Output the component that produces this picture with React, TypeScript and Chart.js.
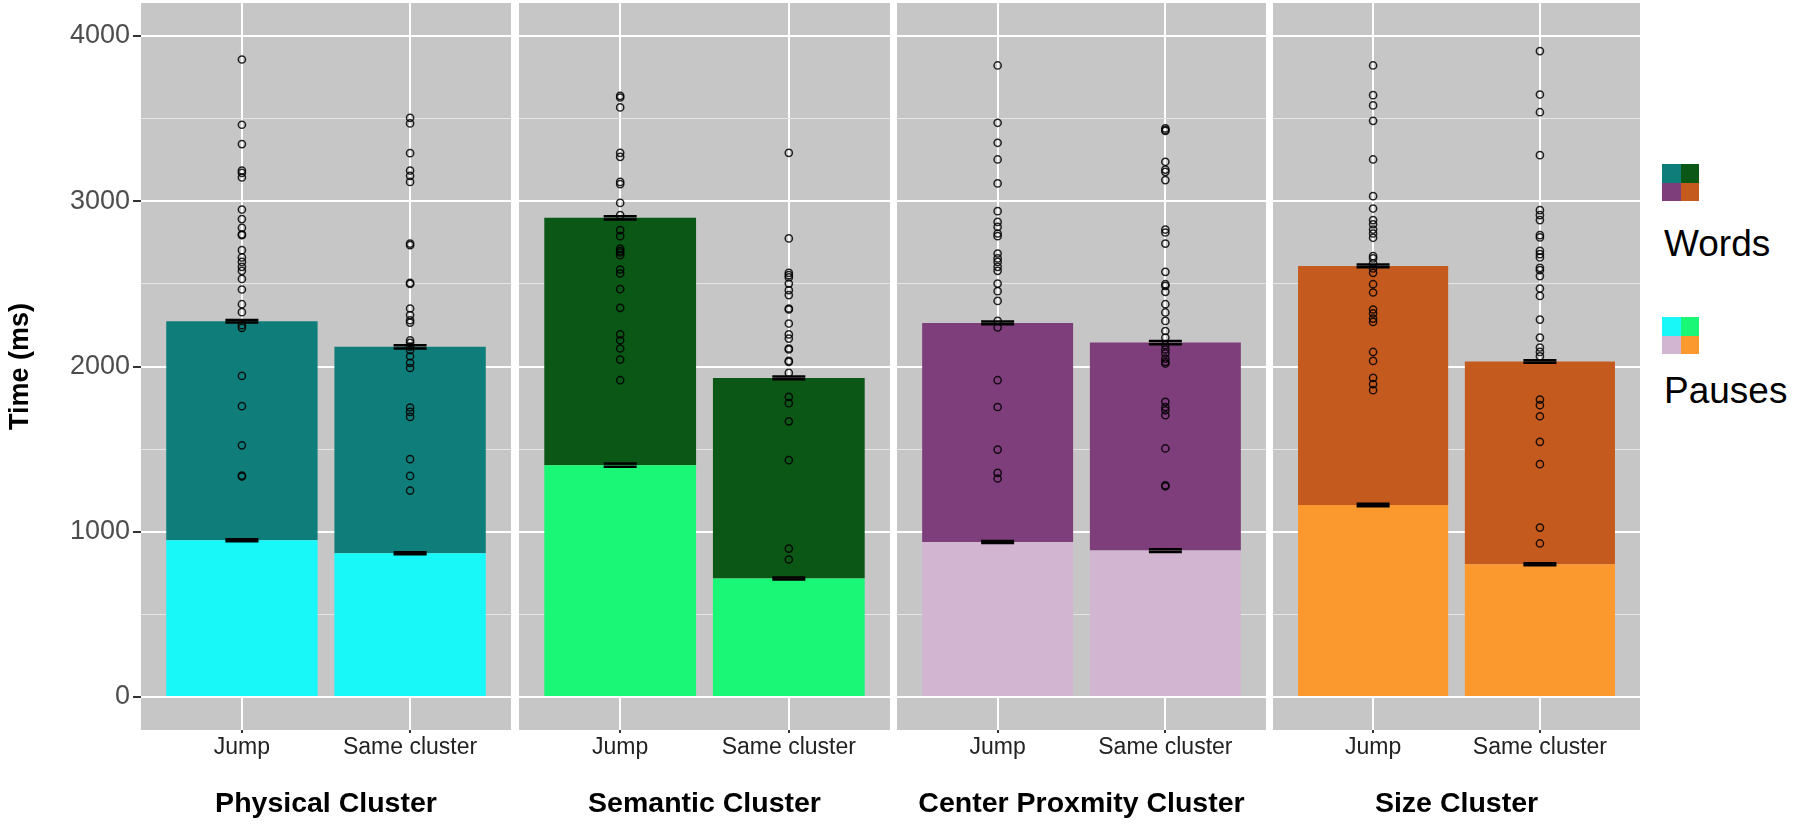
import React, { useEffect, useRef } from "react";
import { Chart, registerables } from "chart.js";

Chart.register(...registerables);

// ---------------- data ----------------
const clusterTitles = ["Physical Cluster", "Semantic Cluster", "Center Proxmity Cluster", "Size Cluster"];
const conditions = ["Jump", "Same cluster"];

// mean pause time (bottom segment) and mean word time (top segment), per cluster: [Jump, Same cluster]
const pauseMeans = [
  [948, 870],
  [1403, 717],
  [938, 886],
  [1162, 803],
];
const wordMeans = [
  [1326, 1249],
  [1497, 1214],
  [1326, 1259],
  [1447, 1227],
];
// standard errors
const pauseSE = [
  [6, 6],
  [10, 6],
  [6, 8],
  [8, 6],
];
const totalSE = [
  [8, 10],
  [10, 8],
  [8, 10],
  [8, 8],
];

// individual participant totals
const physicalJump = [3858, 3463, 3346, 3186, 3172, 3144, 2950, 2892, 2839, 2800, 2795, 2704, 2660, 2633, 2603, 2579, 2530, 2466, 2377, 2329, 2250, 2234, 1943, 1760, 1523, 1340, 1334];
const physicalSame = [3505, 3471, 3291, 3186, 3154, 3117, 2744, 2734, 2506, 2500, 2351, 2311, 2280, 2266, 2159, 2143, 2120, 2099, 2062, 2022, 1991, 1752, 1725, 1695, 1439, 1338, 1249];
const semanticJump = [3638, 3628, 3568, 3293, 3269, 3117, 3104, 2990, 2916, 2825, 2789, 2714, 2700, 2690, 2674, 2587, 2563, 2468, 2355, 2194, 2159, 2109, 2042, 1917];
const semanticSame = [3293, 2775, 2567, 2553, 2539, 2502, 2462, 2432, 2351, 2345, 2260, 2194, 2169, 2109, 2103, 2034, 2028, 1961, 1816, 1778, 1668, 1433, 898, 832];
const centerJump = [3822, 3475, 3354, 3253, 3108, 2940, 2875, 2845, 2805, 2789, 2684, 2654, 2633, 2603, 2579, 2502, 2456, 2397, 2276, 2236, 1917, 1755, 1497, 1356, 1322];
const centerSame = [3441, 3432, 3426, 3239, 3192, 3178, 3128, 2829, 2811, 2744, 2573, 2498, 2488, 2452, 2377, 2327, 2276, 2215, 2175, 2129, 2103, 2079, 2048, 2028, 2018, 1786, 1755, 1735, 1705, 1504, 1281, 1275];
const sizeJump = [3822, 3642, 3580, 3487, 3253, 3031, 2956, 2886, 2861, 2829, 2805, 2779, 2668, 2654, 2624, 2593, 2567, 2498, 2448, 2345, 2321, 2290, 2270, 2088, 2034, 1931, 1893, 1857];
const sizeSame = [3909, 3646, 3539, 3279, 2946, 2916, 2886, 2795, 2781, 2700, 2680, 2660, 2597, 2583, 2547, 2472, 2427, 2284, 2175, 2115, 2088, 2062, 1800, 1766, 1699, 1544, 1409, 1025, 929];

const pointsByCluster = [
  [physicalJump, physicalSame],
  [semanticJump, semanticSame],
  [centerJump, centerSame],
  [sizeJump, sizeSame],
];

const yMajorTicks = [0, 1000, 2000, 3000, 4000];
const yMinorTicks = [500, 1500, 2500, 3500];
const yRange = [-200, 4200];
const xRange = [0.4, 2.6];

const legendLabels = ["Words", "Pauses"];
const wordColors = ["#0F7E7A", "#0A5716", "#7E3D7B", "#C55A1E"];
const pauseColors = ["#18F8F8", "#1AF777", "#D2B5D1", "#FC992E"];

// ---------------- layout / style ----------------
const FONT = "'Liberation Sans', Arial, Helvetica, sans-serif";
const panelBoxes = [
  { left: 0, width: 511 },
  { left: 519, width: 371 },
  { left: 897, width: 369 },
  { left: 1273, width: 367 },
];
const PANEL_BG = "#C6C6C6";

const panelBgPlugin = {
  id: "panelBg",
  beforeDraw(chart: any) {
    const { ctx, chartArea: a } = chart;
    ctx.save();
    ctx.fillStyle = PANEL_BG;
    ctx.fillRect(a.left, a.top, a.right - a.left, a.bottom - a.top);
    ctx.restore();
  },
};

function buildConfig(i: number): any {
  const first = i === 0;
  const pts: { x: number; y: number }[] = [];
  pointsByCluster[i].forEach((arr, j) => arr.forEach((v) => pts.push({ x: j + 1, y: v })));
  const errs: { x: number; y: number }[] = [];
  conditions.forEach((_, j) => {
    const p = pauseMeans[i][j];
    const t = pauseMeans[i][j] + wordMeans[i][j];
    errs.push({ x: j + 1, y: p - pauseSE[i][j] }, { x: j + 1, y: p + pauseSE[i][j] });
    errs.push({ x: j + 1, y: t - totalSE[i][j] }, { x: j + 1, y: t + totalSE[i][j] });
  });
  const isMajor = (v: number) => yMajorTicks.includes(v);

  return {
    type: "bar",
    data: {
      datasets: [
        {
          type: "bar",
          label: "Pauses",
          data: conditions.map((_, j) => ({ x: j + 1, y: pauseMeans[i][j] })),
          backgroundColor: pauseColors[i],
          borderWidth: 0,
          stack: "bars",
          order: 3,
          barPercentage: 0.9,
          categoryPercentage: 1,
        },
        {
          type: "bar",
          label: "Words",
          data: conditions.map((_, j) => ({ x: j + 1, y: wordMeans[i][j] })),
          backgroundColor: wordColors[i],
          borderWidth: 0,
          stack: "bars",
          order: 3,
          barPercentage: 0.9,
          categoryPercentage: 1,
        },
        {
          type: "scatter",
          label: "Participants",
          data: pts,
          pointStyle: "circle",
          radius: 3.6,
          borderWidth: 1.5,
          borderColor: "rgba(0,0,0,0.85)",
          backgroundColor: "rgba(0,0,0,0)",
          stack: "points",
          order: 2,
        },
        {
          type: "scatter",
          label: "SE",
          data: errs,
          pointStyle: "line",
          radius: 16.5,
          borderWidth: 2.5,
          borderColor: "#000",
          backgroundColor: "#000",
          stack: "errors",
          order: 1,
        },
      ],
    },
    options: {
      responsive: false,
      animation: false,
      events: [],
      layout: { autoPadding: false, padding: { top: 3, left: 0, right: 0, bottom: 0 } },
      plugins: { legend: { display: false }, tooltip: { enabled: false } },
      scales: {
        x: {
          type: "linear",
          offset: false,
          min: xRange[0],
          max: xRange[1],
          afterBuildTicks: (s: any) => {
            s.ticks = conditions.map((_, j) => ({ value: j + 1 }));
          },
          afterFit: (s: any) => {
            s.height = 98;
            s.paddingLeft = 0;
            s.paddingRight = 0;
          },
          ticks: {
            autoSkip: false,
            maxRotation: 0,
            padding: 1,
            color: "#222",
            font: { family: FONT, size: 23 },
            callback: (v: any) => conditions[Math.round(v) - 1] ?? "",
          },
          grid: { offset: false, color: "#FFFFFF", lineWidth: 2, tickColor: "#333", tickLength: 3 },
          border: { display: false },
          title: {
            display: true,
            text: clusterTitles[i],
            color: "#000",
            font: { family: FONT, size: 28.5, weight: "bold" },
            padding: { top: 0, bottom: 7 },
          },
        },
        y: {
          type: "linear",
          stacked: true,
          min: yRange[0],
          max: yRange[1],
          afterBuildTicks: (s: any) => {
            s.ticks = [...yMajorTicks, ...yMinorTicks].sort((a, b) => a - b).map((v) => ({ value: v }));
          },
          afterFit: (s: any) => {
            s.width = first ? 141 : 0;
            s.paddingTop = 0;
            s.paddingBottom = 0;
          },
          ticks: {
            display: first,
            autoSkip: false,
            padding: 3,
            color: "#4D4D4D",
            font: { family: FONT, size: 27 },
            callback: (v: any) => (isMajor(v) ? String(v) : ""),
          },
          grid: {
            color: (c: any) => (c.tick && isMajor(c.tick.value) ? "#FFFFFF" : "#E6E6E6"),
            lineWidth: (c: any) => (c.tick && isMajor(c.tick.value) ? 2 : 1),
            drawTicks: first,
            tickLength: 8,
            tickColor: (c: any) => (c.tick && isMajor(c.tick.value) ? "#333" : "rgba(0,0,0,0)"),
          },
          border: { display: false },
          title: {
            display: first,
            text: "Time (ms)",
            color: "#000",
            font: { family: FONT, size: 27, weight: "bold" },
            padding: { top: 4, bottom: 0 },
          },
        },
      },
    },
    plugins: [panelBgPlugin],
  };
}

function LegendKey({ colors, top }: { colors: string[]; top: number }) {
  return (
    <div
      style={{
        position: "absolute",
        left: 1662,
        top,
        width: 37,
        height: 37,
        display: "grid",
        gridTemplateColumns: "18.5px 18.5px",
        gridTemplateRows: "18.5px 18.5px",
      }}
    >
      {colors.map((c, k) => (
        <div key={k} style={{ background: c }} />
      ))}
    </div>
  );
}

export default function App() {
  const canvasRefs = useRef<(HTMLCanvasElement | null)[]>([]);

  useEffect(() => {
    const charts = panelBoxes.map((_, i) => {
      const cv = canvasRefs.current[i]!;
      return new Chart(cv, buildConfig(i));
    });
    return () => charts.forEach((c) => c.destroy());
  }, []);

  const legendText: React.CSSProperties = {
    position: "absolute",
    left: 1664,
    fontFamily: FONT,
    fontSize: 37,
    lineHeight: "37px",
    color: "#000",
    whiteSpace: "nowrap",
  };

  return (
    <div
      style={{
        position: "absolute",
        left: 0,
        top: 0,
        width: 1800,
        height: 828,
        background: "#FFFFFF",
        overflow: "hidden",
      }}
    >
      {panelBoxes.map((p, i) => (
        <canvas
          key={i}
          ref={(el) => {
            canvasRefs.current[i] = el;
          }}
          width={p.width}
          height={828}
          style={{ position: "absolute", left: p.left, top: 0, width: p.width, height: 828 }}
        />
      ))}
      <LegendKey colors={wordColors} top={164} />
      <div style={{ ...legendText, top: 225 }}>{legendLabels[0]}</div>
      <LegendKey colors={pauseColors} top={317} />
      <div style={{ ...legendText, top: 372 }}>{legendLabels[1]}</div>
    </div>
  );
}
